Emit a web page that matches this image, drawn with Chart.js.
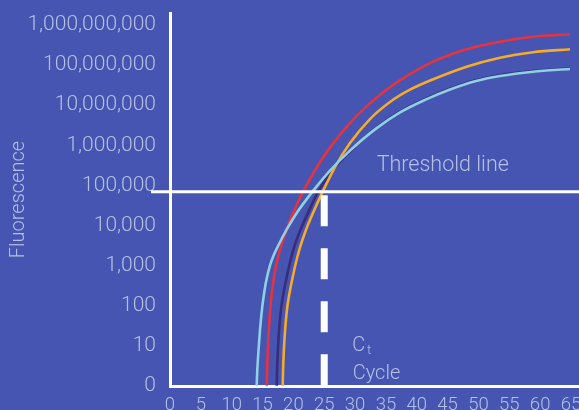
<!DOCTYPE html>
<html>
<head>
<meta charset="utf-8">
<style>
html,body{margin:0;padding:0;background:#4555b1;overflow:hidden}
#wrap{width:579px;height:410px;position:relative}
</style>
<script src="https://cdn.jsdelivr.net/npm/chart.js@4.4.1/dist/chart.umd.min.js"></script>
</head>
<body>
<div id="wrap"><canvas id="c"></canvas></div>
<script>
// ---- data ----
const xTicks = [0, 5, 10, 15, 20, 25, 30, 35, 40, 45, 50, 55, 60, 65];
const yTicks = [1, 10, 100, 1000, 10000, 100000, 1000000, 10000000, 100000000, 1000000000];
const thresholdValue = 60000;
const ctCycle = 25;

const blueX = [14.05, 14.15, 14.35, 14.59, 14.96, 15.24, 15.56, 16.21, 16.86, 17.51, 18.97, 20.54, 23.13, 25.94, 29.18, 33.23, 37.28, 41.34, 45.39, 49.44, 53.49, 58.84, 64.84];
const blueY = [0.85, 2.11, 6.67, 21.1, 80.5, 167, 333, 861, 1620, 2640, 7020, 17600, 61000, 202000, 637000, 2160000, 5730000, 11800000, 21400000, 34400000, 46500000, 59600000, 69500000];

const redX = [15.68, 15.77, 15.93, 16.18, 16.47, 16.79, 17.18, 17.67, 18.24, 18.88, 19.61, 20.59, 21.56, 23.99, 26.47, 29.18, 31.88, 34.57, 37.28, 42.68, 48.09, 53.49, 58.84, 64.84];
const redY = [0.85, 2.82, 11.9, 49.9, 158, 373, 836, 1710, 3460, 6740, 13200, 29200, 59300, 274000, 980000, 3100000, 8090000, 18200000, 36300000, 106000000, 216000000, 334000000, 446000000, 512000000];

const orangeX = [18.27, 18.33, 18.46, 18.66, 18.95, 19.32, 19.76, 20.34, 21.07, 22.05, 23.18, 24.75, 26.75, 29.18, 32.42, 35.66, 38.9, 42.68, 48.09, 53.49, 58.84, 64.84];
const orangeY = [0.85, 2.11, 6.67, 21.1, 66.5, 158, 352, 912, 2420, 6740, 17600, 60000, 247000, 980000, 3900000, 10400000, 21100000, 38600000, 79400000, 133000000, 182000000, 216000000];

const navyX = [17.30, 17.36, 17.49, 17.69, 17.98, 18.35, 18.79, 19.37, 20.10, 21.15, 22.37, 23.99, 25.94, 27.56, 29.18, 33.23, 37.28, 41.34, 45.39, 49.44, 53.49, 58.84, 64.84];
const navyY = [0.85, 2.11, 6.67, 21.1, 66.5, 158, 352, 912, 2420, 6740, 17600, 58900, 171000, 340000, 608000, 2230000, 6000000, 12300000, 22400000, 35900000, 48400000, 61700000, 71600000];

// ---- styles ----
const BG = '#4555b1';
const LABEL = 'rgb(181,192,228)';
const FONT = 'Roboto, "Liberation Sans", Arial, sans-serif';

const pts = (xs, ys) => xs.map((x, i) => ({x: x, y: ys[i]}));

function ds(label, xs, ys, color) {
  return {
    label: label, data: pts(xs, ys), borderColor: color, backgroundColor: color,
    borderWidth: 2.6, pointRadius: 0, fill: false, cubicInterpolationMode: 'monotone'
  };
}

const bgPlugin = {
  id: 'bg',
  beforeDraw(chart) {
    const c = chart.ctx;
    c.save(); c.fillStyle = BG; c.fillRect(0, 0, chart.width, chart.height); c.restore();
  }
};

const annoPlugin = {
  id: 'anno',
  afterDatasetsDraw(chart) {
    const c = chart.ctx, xs = chart.scales.x, ys = chart.scales.y, a = chart.chartArea;
    const ty = ys.getPixelForValue(thresholdValue);
    const cx = xs.getPixelForValue(ctCycle);
    c.save();
    // threshold line
    c.strokeStyle = '#ffffff'; c.lineWidth = 3; c.setLineDash([]);
    c.beginPath(); c.moveTo(a.left - 19, ty); c.lineTo(chart.width, ty); c.stroke();
    // Ct dashed line
    c.lineWidth = 7; c.lineCap = 'butt'; c.setLineDash([31, 22]);
    c.beginPath(); c.moveTo(cx, ty + 3.5); c.lineTo(cx, a.bottom); c.stroke();
    c.setLineDash([]);
    // texts
    c.fillStyle = LABEL; c.textBaseline = 'alphabetic'; c.textAlign = 'left';
    c.font = '300 21.5px ' + FONT;
    c.fillText('Threshold line', xs.getPixelForValue(33.5), ty - 20.5);
    c.font = '300 20px ' + FONT;
    const cLeft = cx + 28;
    c.fillText('C', cLeft, a.bottom - 35.5);
    const cw = c.measureText('C').width;
    c.fillText('Cycle', cLeft + 0.5, a.bottom - 6.7);
    c.font = '300 12px ' + FONT;
    c.fillText('t', cLeft + cw + 2, a.bottom - 32.5);
    c.restore();
  }
};

new Chart(document.getElementById('c'), {
  type: 'line',
  data: {
    datasets: [
      ds('Sample A', blueX, blueY, '#8fd0e3'),
      ds('Sample B', redX, redY, '#e8323e'),
      ds('Sample C', orangeX, orangeY, '#f6ab2a'),
      ds('Sample D', navyX, navyY, '#3b2c7a')
    ]
  },
  options: {
    responsive: true, maintainAspectRatio: false, animation: false, devicePixelRatio: 1,
    layout: {padding: {top: 13, right: 0, bottom: 0, left: 0}},
    plugins: {legend: {display: false}, tooltip: {enabled: false}},
    scales: {
      x: {
        type: 'linear', min: 0, max: 66.3,
        grid: {display: false, drawTicks: false},
        border: {display: true, color: '#ffffff', width: 3},
        ticks: {color: LABEL, font: {family: FONT, size: 18.5, weight: 300}, padding: 8, maxRotation: 0, autoSkip: false},
        afterBuildTicks: s => { s.ticks = xTicks.map(v => ({value: v})); },
        afterFit: s => { s.height = 24; s.paddingLeft = 0; s.paddingRight = 0; }
      },
      y: {
        type: 'logarithmic', min: 0.841, max: 1.74e9,
        grid: {display: false, drawTicks: false},
        border: {display: true, color: '#ffffff', width: 3},
        ticks: {
          color: LABEL, font: {family: FONT, size: 21, weight: 300}, padding: 14, autoSkip: false, labelOffset: 2.5,
          callback: v => v === 1 ? '0' : Number(v).toLocaleString('en-US')
        },
        title: {display: true, text: 'Fluorescence', color: LABEL, font: {family: FONT, size: 20, weight: 300}, padding: {top: 6.5, bottom: 0}},
        afterBuildTicks: s => { s.ticks = yTicks.map(v => ({value: v})); },
        afterFit: s => { s.width = 170; s.paddingTop = 0; s.paddingBottom = 0; }
      }
    }
  },
  plugins: [bgPlugin, annoPlugin]
});
</script>
</body>
</html>
